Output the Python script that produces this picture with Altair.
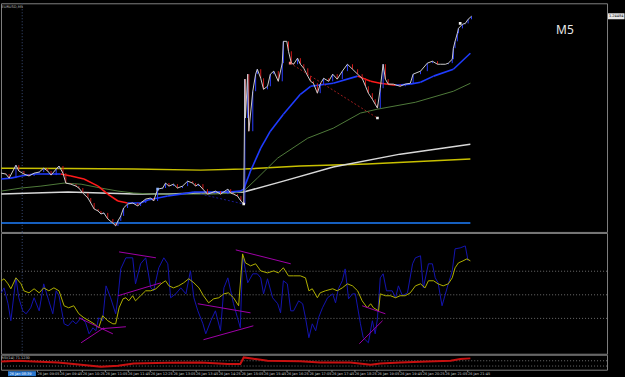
import altair as alt
import pandas as pd
import numpy as np

# ---------------- data ----------------
price_time = ["08:02","08:10","08:16","08:28","08:33","08:42","08:51","09:00","09:09","09:17",
              "09:24","09:30","09:39","09:44","09:51","09:56","10:05","10:14","10:19","10:26",
              "10:35","10:40","10:46","10:53","10:58","11:03","11:10","11:19","11:24","11:28",
              "11:33","11:38","11:45","11:54","12:03","12:08","12:17","12:26","12:31","12:38",
              "12:47","12:52","12:58","13:06","13:13","13:22","13:31","13:40","13:45","13:50",
              "13:58","14:06","14:12","14:20","14:29","14:42","14:47","14:52","14:59","15:05",
              "15:10","15:12","15:13","15:17","15:19","15:26","15:31","15:34","15:40","15:45",
              "15:52","15:57","16:03","16:11","16:18","16:20","16:26","16:29","16:34","16:38",
              "16:45","16:50","16:56","17:03","17:08","17:13","17:20","17:25","17:31","17:40",
              "17:47","17:55","18:04","18:13","18:22","18:31","18:39","18:45","18:50","18:57",
              "19:02","19:06","19:11","19:16","19:20","19:25","19:34","19:46","19:55","20:04",
              "20:09","20:22","20:34","20:43","20:52","20:57","21:06","21:11","21:18","21:20",
              "21:23","21:27","21:29","21:36","21:41","21:46","21:52"]
price_close = [1.23758,1.23754,1.23735,1.23795,1.23768,1.23754,1.23745,1.23758,1.23763,1.23781,
               1.23768,1.23749,1.23777,1.23791,1.23758,1.23712,1.23707,1.23698,1.23689,1.23666,
               1.23643,1.23620,1.23592,1.23583,1.23569,1.23574,1.23546,1.23527,1.23514,1.23537,
               1.23560,1.23597,1.23615,1.23620,1.23606,1.23620,1.23638,1.23643,1.23629,1.23684,
               1.23689,1.23712,1.23698,1.23707,1.23689,1.23698,1.23721,1.23712,1.23698,1.23707,
               1.23684,1.23661,1.23666,1.23675,1.23661,1.23684,1.23666,1.23661,1.23652,1.23629,
               1.23615,1.24193,1.24013,1.24216,1.23952,1.24137,1.24216,1.24239,1.24197,1.24146,
               1.24160,1.24216,1.24230,1.24183,1.24267,1.24368,1.24368,1.24322,1.24267,1.24262,
               1.24290,1.24262,1.24243,1.24207,1.24183,1.24174,1.24128,1.24170,1.24197,1.24183,
               1.24216,1.24193,1.24230,1.24262,1.24239,1.24216,1.24197,1.24160,1.24128,1.24100,
               1.24077,1.24059,1.24151,1.24262,1.24193,1.24170,1.24170,1.24160,1.24170,1.24174,
               1.24216,1.24230,1.24267,1.24276,1.24262,1.24262,1.24262,1.24267,1.24285,1.24336,
               1.24368,1.24405,1.24428,1.24447,1.24451,1.24470,1.24484]

ma_time = ["08:02","08:19","08:37","09:00","09:30","09:47","10:05","10:28","10:53","11:10",
           "11:28","11:45","12:08","12:21","12:56","13:19","13:42","14:06","14:42","15:04",
           "15:10","15:22","15:40","15:57","16:20","16:50","17:08","17:48","18:31","18:54",
           "19:11","19:38","20:04","20:22","20:45","21:20","21:50"]
ma_value = [1.23731,1.23735,1.23745,1.23754,1.23754,1.23754,1.23745,1.23731,1.23698,1.23661,
            1.23629,1.23620,1.23620,1.23634,1.23652,1.23661,1.23671,1.23671,1.23671,1.23675,
            1.23684,1.23768,1.23874,1.23952,1.24031,1.24123,1.24160,1.24174,1.24207,1.24183,
            1.24174,1.24165,1.24170,1.24179,1.24207,1.24239,1.24313]

green_time = ["08:02","08:37","09:12","09:53","10:23","10:58","11:28","11:56","12:31","13:42",
              "14:17","14:52","15:10","15:34","16:10","17:03","17:48","18:36","19:06","20:13",
              "21:20","21:50"]
green_value = [1.23675,1.23689,1.23698,1.23712,1.23707,1.23689,1.23675,1.23666,1.23661,1.23661,
               1.23661,1.23666,1.23675,1.23735,1.23828,1.23920,1.23966,1.24036,1.24054,1.24086,
               1.24137,1.24174]

grey_time = ["08:02","09:00","10:00","11:56","12:56","13:54","15:10","16:20","17:48","19:46","21:50"]
grey_value = [1.23661,1.23666,1.23671,1.23661,1.23661,1.23666,1.23671,1.23721,1.23786,1.23846,1.23892]

yellow_time = ["08:02","10:00","11:56","13:54","15:10","16:50","18:48","21:50"]
yellow_value = [1.23781,1.23779,1.23777,1.23772,1.23777,1.23791,1.23800,1.23823]

level_line = [1.23527]
level_span = ["08:02", "21:50"]

mark_time = ["12:38", "15:10", "16:32", "19:06", "21:32"]
mark_price = [1.23684, 1.23615, 1.24267, 1.24013, 1.24451]
mark_kind = ["blue", "white", "red", "white", "white"]

main_tl_t1 = ["16:32", "13:54"]
main_tl_p1 = [1.24267, 1.23661]
main_tl_t2 = ["19:06", "15:10"]
main_tl_p2 = [1.24013, 1.23615]
main_tl_kind = ["red", "navy"]

osc_sig_time = ["08:02","08:07","08:14","08:19","08:28","08:37","08:42","08:51","09:00","09:09",
                "09:17","09:26","09:35","09:44","09:53","10:01","10:10","10:19","10:28","10:37",
                "10:46","10:54","11:01","11:10","11:19","11:24","11:30","11:37","11:42","11:47",
                "11:54","11:59","12:08","12:17","12:26","12:35","12:44","12:52","12:58","13:06",
                "13:15","13:24","13:33","13:42","13:51","13:59","14:08","14:17","14:26","14:35",
                "14:43","14:52","15:01","15:08","15:13","15:22","15:31","15:40","15:52","16:03",
                "16:11","16:20","16:29","16:38","16:50","16:59","17:05","17:11","17:20","17:25",
                "17:34","17:47","17:55","18:04","18:13","18:22","18:31","18:39","18:48","18:54",
                "18:59","19:08","19:11","19:20","19:29","19:38","19:46","19:55","20:04","20:13",
                "20:22","20:30","20:36","20:45","20:53","21:02","21:11","21:18","21:23","21:29",
                "21:37","21:44","21:50"]
osc_sig_value = [61.9,63.6,59.3,55.1,64.4,59.3,53.4,51.7,55.1,51.7,
                 55.9,53.4,55.9,53.4,40.7,39.0,40.7,33.9,30.5,28.0,
                 25.4,22.0,32.2,28.0,25.4,25.4,39.0,46.6,47.5,44.9,
                 49.2,44.9,49.2,53.4,53.4,55.1,59.3,61.9,57.6,55.9,
                 57.6,60.2,63.6,60.2,55.9,49.2,43.2,46.6,47.5,50.8,
                 51.7,47.5,40.7,84.7,77.1,74.6,76.3,70.3,68.6,70.3,
                 68.6,72.9,66.1,66.1,66.1,64.4,53.4,55.1,47.5,51.7,
                 53.4,55.1,53.4,55.9,59.3,57.6,53.4,44.9,39.0,42.4,
                 39.0,36.4,50.8,49.2,49.2,47.5,49.2,49.2,51.7,57.6,
                 59.3,55.9,61.9,61.9,59.3,57.6,59.3,64.4,72.9,77.1,
                 78.8,80.5,78.8]

osc_fast_time = ["08:02","08:07","08:14","08:19","08:28","08:33","08:40","08:46","08:54","09:00",
                 "09:09","09:17","09:26","09:33","09:39","09:44","09:53","10:00","10:08","10:14",
                 "10:23","10:31","10:37","10:44","10:49","10:54","11:01","11:07","11:15","11:24",
                 "11:28","11:33","11:42","11:54","11:59","12:08","12:17","12:26","12:31","12:40",
                 "12:49","12:56","13:01","13:10","13:19","13:28","13:36","13:42","13:49","13:58",
                 "14:03","14:12","14:20","14:29","14:35","14:42","14:47","14:52","14:59","15:04",
                 "15:08","15:10","15:17","15:26","15:34","15:40","15:45","15:52","16:01","16:10",
                 "16:15","16:20","16:27","16:33","16:38","16:47","16:54","16:59","17:05","17:11",
                 "17:17","17:22","17:29","17:38","17:47","17:52","17:57","18:04","18:09","18:15",
                 "18:22","18:27","18:36","18:41","18:50","18:57","19:02","19:06","19:11","19:16",
                 "19:22","19:32","19:38","19:43","19:50","19:59","20:08","20:13","20:22","20:27",
                 "20:36","20:43","20:48","20:53","21:00","21:09","21:18","21:23","21:32","21:41",
                 "21:46"]
osc_fast_value = [51.7,55.9,42.4,28.0,64.4,47.5,36.4,33.9,39.0,47.5,
                  36.4,59.3,44.9,33.9,53.4,49.2,25.4,23.7,28.0,25.4,
                  30.5,26.3,16.9,22.0,19.5,30.5,28.0,57.6,47.5,33.9,
                  47.5,72.0,81.4,81.4,59.3,76.3,81.4,55.9,53.4,72.9,
                  81.4,76.3,47.5,50.8,55.9,50.8,70.3,47.5,36.4,25.4,
                  16.9,28.0,36.4,19.5,55.9,64.4,53.4,42.4,30.5,22.0,
                  81.4,78.8,60.2,67.8,67.8,64.4,50.8,63.6,47.5,42.4,
                  34.7,61.9,59.3,36.4,36.4,44.9,42.4,30.5,13.6,25.4,
                  19.5,30.5,39.0,47.5,50.8,43.2,55.1,61.9,72.0,46.6,
                  50.8,50.8,25.4,13.6,9.3,28.0,16.9,29.7,64.4,67.8,
                  53.4,53.4,47.5,57.6,49.2,51.7,76.3,81.4,83.1,55.9,
                  76.3,76.3,64.4,60.2,40.7,55.9,70.3,89.0,89.8,91.5,
                  78.8]

osc_tl_t1 = ["10:19","10:23","10:58","11:30","11:28","14:56","13:49","13:59","18:39","18:34"]
osc_tl_v1 = [30.5, 9.3, 21.2, 86.4, 49.2, 88.1, 42.4, 11.9, 40.7, 8.5]
osc_tl_t2 = ["11:19","11:03","11:42","12:35","12:44","16:33","15:22","15:27","19:20","19:15"]
osc_tl_v2 = [16.9, 22.0, 22.9, 81.4, 60.2, 76.3, 34.7, 23.7, 33.9, 28.0]
osc_levels = [70, 50, 30]

rsi_time = ["08:02","08:32","09:00","09:42","10:23","10:58","11:28","11:56","12:56","13:54",
            "14:42","15:04","15:10","15:27","15:52","16:50","17:25","18:18","18:54","19:11",
            "19:46","20:34","21:15","21:32","21:50"]
rsi_value = [65,70,65,57,40,25,32,50,55,57,45,45,95,85,70,66,57,57,40,50,57,65,70,83,88]
rsi_levels = [70, 30]

price_ticks = [1.24530,1.24420,1.24365,1.24310,1.24255,1.24200,1.24145,1.24090,1.24035,
               1.23980,1.23925,1.23870,1.23815,1.23760,1.23705,1.23650,1.23595,1.23540,1.23485]
time_ticks = ["09:05","09:45","10:25","11:05","11:45","12:25","13:05","13:45","14:25",
              "15:05","15:45","16:25","17:05","17:45","18:25","19:05","19:45","20:25","21:05","21:45"]
crosshair_time = "08:39"
symbol_label = "EURUSD,M5"
period_label = "M5"
rsi_label = "RSI(14) 71.1230"

# ---------------- helpers ----------------
def to_min(s):
    h, m = s.split(":")
    return int(h) * 60 + int(m)

def frame(times, **cols):
    d = pd.DataFrame({"time": times, **cols})
    d["t"] = d["time"].map(to_min)
    return d

FONT = "DejaVu Sans"
W = 607
xs = alt.Scale(domain=[481.6, 1551.2], nice=False, zero=False)
main_ys = alt.Scale(domain=[1.23486, 1.24544], nice=False, zero=False)
osc_ys = alt.Scale(domain=[0, 102.5], nice=False, zero=False)
rsi_ys = alt.Scale(domain=[2.3, 115.5], nice=False, zero=False)

def X(f="t"):
    return alt.X(f"{f}:Q", scale=xs, axis=None)

def yax(values, fmt):
    return alt.Axis(orient="right", values=values, format=fmt, labelFontSize=3.5, labelFont=FONT,
                    labelColor="#c8c8c8", tickColor="#8a8a8a", tickSize=2, domain=False,
                    grid=False, title=None, labelPadding=0.5, labelOverlap=False, labelFlush=False)

# ---------------- main price panel ----------------
pr = frame(price_time, p=price_close)
candles = pd.DataFrame({"t": pr.t.values[1:], "o": pr.p.values[:-1], "c": pr.p.values[1:]})
candles["cdir"] = np.where(candles.c >= candles.o, "up", "down")

ma = frame(ma_time, v=ma_value)
seg = pd.DataFrame({"t": ma.t.values[:-1], "t2": ma.t.values[1:],
                    "v": ma.v.values[:-1], "v2": ma.v.values[1:]})
seg["mdir"] = np.where(seg.v2 >= seg.v, "up", "down")

def MY(f):
    return alt.Y(f"{f}:Q", scale=main_ys, axis=None)

cross_df = pd.DataFrame({"t": [to_min(crosshair_time)]})
crosshair = alt.Chart(cross_df).mark_rule(color="#3a4d78", strokeDash=[1, 2], strokeWidth=1).encode(x=X())

lvl_df = pd.DataFrame({"t": [to_min(level_span[0])], "t2": [to_min(level_span[1])], "p": level_line})
hline = alt.Chart(lvl_df).mark_rule(color="#1e7fff", strokeWidth=1.5, clip=True).encode(
    x=X(), x2="t2:Q", y=alt.Y("p:Q", scale=main_ys, axis=yax(price_ticks, ".5f")))

yellow = alt.Chart(frame(yellow_time, p=yellow_value)).mark_line(color="#c8c000", strokeWidth=1.5, clip=True).encode(x=X(), y=MY("p"))
grey = alt.Chart(frame(grey_time, p=grey_value)).mark_line(color="#d8d8d8", strokeWidth=1.5, clip=True).encode(x=X(), y=MY("p"))
green = alt.Chart(frame(green_time, p=green_value)).mark_line(color="#4f7a3a", strokeWidth=1, clip=True).encode(x=X(), y=MY("p"))

ma_chart = alt.Chart(seg).mark_rule(strokeWidth=1.6, clip=True).encode(
    x=X(), x2="t2:Q", y=MY("v"), y2="v2:Q",
    color=alt.Color("mdir:N", scale=alt.Scale(domain=["up", "down"], range=["#1f3cff", "#ff1a1a"]), legend=None))

candle_chart = alt.Chart(candles).mark_rule(strokeWidth=1, clip=True).encode(
    x=X(), y=MY("o"), y2="c:Q",
    color=alt.Color("cdir:N", scale=alt.Scale(domain=["up", "down"], range=["#2a3cff", "#d01818"]), legend=None))

price_line = alt.Chart(pr).mark_line(color="#cccccc", strokeWidth=1, clip=True).encode(x=X(), y=MY("p"))

mtl = pd.DataFrame({"t": [to_min(s) for s in main_tl_t1], "t2": [to_min(s) for s in main_tl_t2],
                    "p": main_tl_p1, "p2": main_tl_p2, "tkind": main_tl_kind})
main_tl = alt.Chart(mtl).mark_rule(strokeWidth=1, strokeDash=[2, 2], clip=True).encode(
    x=X(), x2="t2:Q", y=MY("p"), y2="p2:Q",
    color=alt.Color("tkind:N", scale=alt.Scale(domain=["red", "navy"], range=["#9b1c1c", "#1a1a90"]), legend=None))

mk = frame(mark_time, p=mark_price, mkind=mark_kind)
markers = alt.Chart(mk).mark_square(size=7, opacity=1, clip=True).encode(
    x=X(), y=MY("p"),
    color=alt.Color("mkind:N", scale=alt.Scale(domain=["blue", "white", "red"], range=["#8fb4ff", "#f0f0f0", "#ff8080"]), legend=None))

box_df = pd.DataFrame({"p": [price_close[-1]], "label": [f"{price_close[-1]:.5f}"]})
box = alt.Chart(box_df).mark_rect(color="#e6e6e6", yOffset=-3, y2Offset=3).encode(
    x=alt.value(W + 1), x2=alt.value(W + 17.5), y=MY("p"), y2="p:Q")
box_text = alt.Chart(box_df).mark_text(color="#000000", fontSize=3.5, font=FONT, align="left", baseline="middle").encode(
    x=alt.value(W + 2), y=MY("p"), text="label:N")

m5 = alt.Chart(pd.DataFrame({"label": [period_label]})).mark_text(
    color="#e8e8e8", fontSize=12, font="Noto Sans", align="left", baseline="alphabetic").encode(
    x=alt.value(556), y=alt.value(31), text="label:N")
sym = alt.Chart(pd.DataFrame({"label": [symbol_label]})).mark_text(
    color="#b8b8b8", fontSize=3.6, font=FONT, align="left", baseline="middle").encode(
    x=alt.value(0.5), y=alt.value(4), text="label:N")

main = alt.layer(crosshair, hline, yellow, grey, green, ma_chart, candle_chart, price_line,
                 main_tl, markers, box, box_text, m5, sym).resolve_scale(color="independent").properties(width=W, height=229)

# ---------------- oscillator panel ----------------
OY = lambda f: alt.Y(f"{f}:Q", scale=osc_ys, axis=None)
olv = pd.DataFrame({"v": osc_levels})
osc_levels_chart = alt.Chart(olv).mark_rule(color="#6e6e6e", strokeDash=[1, 2], strokeWidth=1).encode(
    y=alt.Y("v:Q", scale=osc_ys, axis=yax([100, 70, 50, 30, 0], "d")))
osc_cross = alt.Chart(cross_df).mark_rule(color="#3a4d78", strokeDash=[1, 2], strokeWidth=1).encode(x=X())
fast = alt.Chart(frame(osc_fast_time, v=osc_fast_value)).mark_line(color="#1414b0", strokeWidth=1, clip=True).encode(x=X(), y=OY("v"))
sig = alt.Chart(frame(osc_sig_time, v=osc_sig_value)).mark_line(color="#b0b000", strokeWidth=1, clip=True).encode(x=X(), y=OY("v"))
otl = pd.DataFrame({"t": [to_min(s) for s in osc_tl_t1], "t2": [to_min(s) for s in osc_tl_t2],
                    "v": osc_tl_v1, "v2": osc_tl_v2})
osc_tl = alt.Chart(otl).mark_rule(color="#a000a8", strokeWidth=1, clip=True).encode(x=X(), x2="t2:Q", y=OY("v"), y2="v2:Q")
osc = alt.layer(osc_levels_chart, osc_cross, fast, sig, osc_tl).properties(width=W, height=121)

# ---------------- small RSI panel ----------------
xaxis = alt.Axis(values=[to_min(s) for s in time_ticks],
                 labelExpr="'26 Jan ' + (datum.value < 600 ? '0' : '') + floor(datum.value / 60) + ':' + (datum.value % 60 < 10 ? '0' : '') + (datum.value % 60)",
                 labelFontSize=3.5, labelFont=FONT, labelColor="#c8c8c8", labelAlign="left",
                 tickColor="#8a8a8a", tickSize=2, domain=False, grid=False, title=None,
                 labelPadding=0, labelOverlap=False, labelFlush=False)
rlv = pd.DataFrame({"v": rsi_levels})
rsi_levels_chart = alt.Chart(rlv).mark_rule(color="#6e6e6e", strokeDash=[1, 2], strokeWidth=1).encode(
    y=alt.Y("v:Q", scale=rsi_ys, axis=yax([100, 70, 30], "d")))
rsi_line = alt.Chart(frame(rsi_time, v=rsi_value)).mark_line(color="#c81010", strokeWidth=2, clip=True).encode(
    x=alt.X("t:Q", scale=xs, axis=xaxis), y=alt.Y("v:Q", scale=rsi_ys, axis=None))
rsi_text = alt.Chart(pd.DataFrame({"label": [rsi_label]})).mark_text(
    color="#c8c8c8", fontSize=3.5, font=FONT, align="left", baseline="middle").encode(
    x=alt.value(0.5), y=alt.value(3), text="label:N")
cross_lab = pd.DataFrame({"label": ["26 Jan " + crosshair_time]})
cross_box = alt.Chart(cross_lab).mark_rect(color="#2a78d0").encode(
    x=alt.value(7), x2=alt.value(35), y=alt.value(16.5), y2=alt.value(21.5))
cross_txt = alt.Chart(cross_lab).mark_text(color="#ffffff", fontSize=3.5, font=FONT, align="left", baseline="middle").encode(
    x=alt.value(8.5), y=alt.value(19), text="label:N")
small = alt.layer(rsi_levels_chart, rsi_line, rsi_text, cross_box, cross_txt).properties(width=W, height=15)

PAD = {"left": 0, "top": 2, "right": 0, "bottom": 0}
chart = alt.vconcat(main, osc, small, spacing=1, bounds="flush", padding=PAD,
                    background="#000000").configure(
    background="#000000").configure_view(stroke="#7f7f7f", strokeWidth=1)

chart.save("out.html", embed_options={"renderer": "svg", "actions": False})
